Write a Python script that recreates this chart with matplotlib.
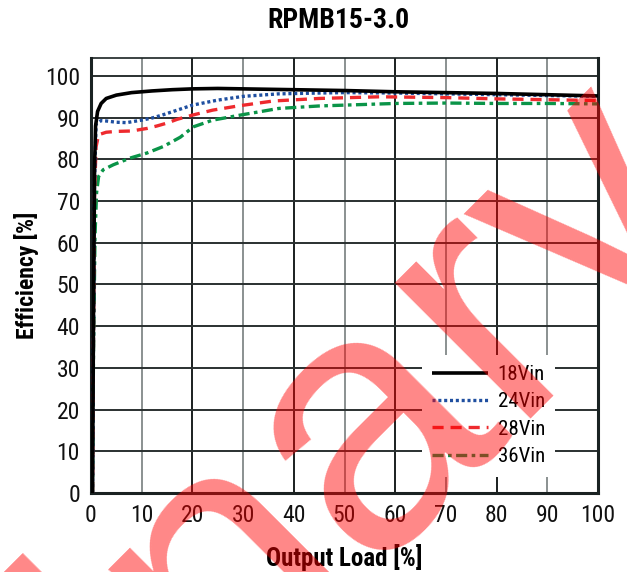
import matplotlib
matplotlib.use("Agg")
import matplotlib.pyplot as plt

plt.rcParams["font.family"] = ["Roboto Condensed", "DejaVu Sans"]
plt.rcParams["font.stretch"] = "condensed"
plt.rcParams["lines.scale_dashes"] = False

# ---- data ----
load_18 = [0.3, 0.5, 0.7, 0.9, 1.3, 2, 3, 5, 8, 12, 16, 20, 25, 30, 40, 50, 60, 70, 80, 90, 100]
eff_18 = [0, 45, 78, 88, 91.5, 93.4, 94.6, 95.4, 96.0, 96.4, 96.7, 96.9, 97.0, 96.9,
          96.7, 96.5, 96.2, 96.0, 95.8, 95.5, 95.2]

load_24 = [0.3, 0.5, 0.7, 1.0, 2, 3, 5, 7, 10, 12, 14, 17, 20, 25, 30, 37, 45, 50,
           60, 70, 80, 90, 100]
eff_24 = [0, 40, 75, 88.5, 89.3, 89.2, 88.9, 88.8, 89.4, 89.9, 90.6, 91.8, 93.0, 94.2,
          95.1, 95.7, 95.9, 96.0, 95.9, 95.7, 95.5, 95.3, 95.1]

load_28 = [0.3, 0.5, 0.7, 1.0, 1.5, 3, 5, 8, 11, 13, 15, 17, 20, 24, 29, 36, 45, 57,
           70, 80, 90, 100]
eff_28 = [0, 40, 72, 83, 85.9, 86.5, 86.7, 86.8, 87.4, 88.0, 88.7, 89.6, 90.6, 91.8,
          92.8, 94.0, 94.6, 95.0, 94.8, 94.5, 94.3, 94.1]

load_36 = [0.3, 0.5, 0.8, 1.1, 1.5, 2.4, 4.4, 7.7, 11, 14.3, 17.6, 20.2, 24, 29.4, 37,
           45, 50, 60, 70, 80, 90, 100]
eff_36 = [0, 35, 62, 72, 75.9, 77.5, 78.7, 80.3, 81.5, 83.1, 85.3, 87.8, 89.4, 90.6,
          92.2, 92.8, 93.0, 93.4, 93.5, 93.4, 93.4, 93.3]

labels = ["18Vin", "24Vin", "28Vin", "36Vin"]
x_ticks = list(range(0, 101, 10))
y_ticks = list(range(0, 101, 10))

title = "RPMB15-3.0"
x_label = "Output Load [%]"
y_label = "Efficiency [%]"
watermark = "Preliminary"

fig = plt.figure(figsize=(6.27, 5.72), dpi=100)
ax = fig.add_axes([91 / 627, 1 - 493 / 572, 507 / 627, 435 / 572])

ax.plot(load_18, eff_18, color="black", lw=2.6, solid_capstyle="butt", label=labels[0], zorder=5)
ax.plot(load_24, eff_24, color="#1f4fa0", lw=2.4, dashes=(2.2, 2.0),
        dash_capstyle="butt", label=labels[1], zorder=4)
ax.plot(load_28, eff_28, color="#ee2a2e", lw=2.4, dashes=(8, 5),
        dash_capstyle="butt", label=labels[2], zorder=3)
ax.plot(load_36, eff_36, color="#0a9448", lw=2.4, dashes=(8, 3.2, 2.6, 3.2),
        dash_capstyle="butt", label=labels[3], zorder=2)

ax.set_xlim(0, 100)
ax.set_ylim(0, 104.3)
ax.set_xticks(x_ticks)
ax.set_yticks(y_ticks)
ax.tick_params(length=0, labelsize=17, pad=8, colors="#111")

ax.set_axisbelow(True)
ax.grid(True, lw=1.4)
for tick, line in zip(x_ticks, ax.get_xgridlines()):
    line.set_color("#8a9090" if (tick // 10) % 2 else "#1a1f1f")
for line in ax.get_ygridlines():
    line.set_color("#2a3030")

for side in ["left", "bottom", "right"]:
    ax.spines[side].set_linewidth(2.2)
    ax.spines[side].set_color("#1a2222")
ax.spines["top"].set_linewidth(1.2)
ax.spines["top"].set_color("#1a2222")

leg = ax.legend(loc="upper left", bbox_to_anchor=(0.652, 0.318), fontsize=15,
                handlelength=2.7, handletextpad=0.45, labelspacing=0.4,
                borderaxespad=0, borderpad=0.5, frameon=True, fancybox=False)
leg.get_frame().set_facecolor("white")
leg.get_frame().set_edgecolor("none")
leg.get_frame().set_alpha(1)

fig.text(338 / 627, 1 - 20 / 572, title, ha="center", va="center",
         fontsize=20, fontweight="bold")
ax.set_xlabel(x_label, fontsize=18, fontweight="bold", labelpad=12)
ax.set_ylabel(y_label, fontsize=17, fontweight="bold", labelpad=4)

# red watermark across the plot, on top of everything
fig.text(-0.905, -1.60, watermark, rotation=45, rotation_mode="anchor",
         ha="left", va="baseline", fontsize=262,
         family="Liberation Sans", color=(1, 0, 0, 0.47), zorder=10)

fig.savefig("out.png", dpi=100)
